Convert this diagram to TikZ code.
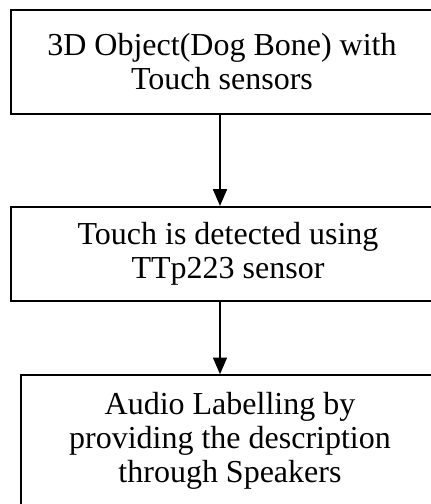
\documentclass[tikz,border=0pt]{standalone}
\usepackage{fontspec}
\setmainfont{Liberation Serif}
\usetikzlibrary{arrows.meta}
\tikzstyle{process} = [rectangle, draw=black, line width=1.2pt, inner sep=0pt, align=center, font=\fontsize{24}{25.5}\selectfont]
\tikzstyle{arrow} = [line width=1.2pt, -{Triangle[width=10.5pt, length=12.5pt]}]

\begin{document}
\begin{tikzpicture}[x=0.75pt, y=-0.75pt]
    \clip (0,0) rectangle (431,504);
    \node (object) [process, minimum width=422*0.75pt, minimum height=104.5*0.75pt] at (222,62) {3D Object(Dog Bone) with\\Touch sensors};
    \node (detect) [process, minimum width=434*0.75pt, minimum height=94*0.75pt] at (228,253.7) {Touch is detected using\\TTp223 sensor};
    \node (audio) [process, minimum width=418*0.75pt, minimum height=132*0.75pt] at (230,441) {Audio Labelling by\\providing the description\\through Speakers};

    \draw [arrow] (220,0 |- object.south) -- (220,0 |- detect.north);
    \draw [arrow] (220,0 |- detect.south) -- (220,0 |- audio.north);
\end{tikzpicture}
\end{document}
